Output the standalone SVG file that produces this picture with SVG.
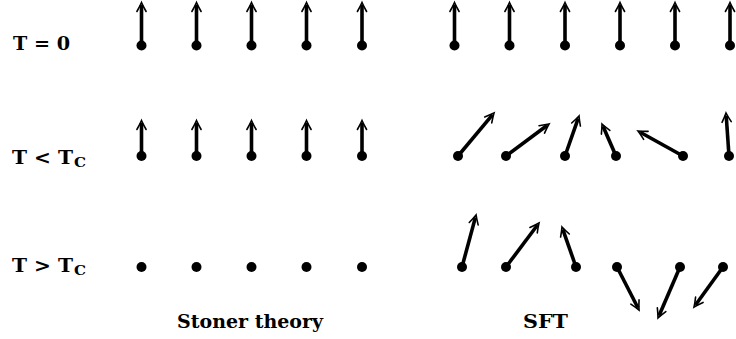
<svg xmlns="http://www.w3.org/2000/svg" width="736" height="339" viewBox="0 0 736 339">
<style>
.lbl{font-family:"DejaVu Serif","Liberation Serif",serif;font-weight:bold;fill:#000}
.sh{stroke:#000;stroke-width:3.6;fill:none;marker-end:url(#ah)}
.dot{fill:#000}
</style>
<defs>
<marker id="ah" markerUnits="userSpaceOnUse" orient="auto" refX="-2.5" refY="0" markerWidth="12" markerHeight="12" overflow="visible">
<path d="M-9,-4.6 Q-3.5,-1.5 0,0 Q-3.5,1.5 -9,4.6" stroke="#000" stroke-width="1.6" fill="none" stroke-linecap="round"/>
</marker>
</defs>
<rect width="736" height="339" fill="#fff"/>
<g id="labels">
<text class="lbl" x="13" y="50" font-size="18" textLength="57" lengthAdjust="spacingAndGlyphs">T = 0</text>
<text class="lbl" x="12" y="164" font-size="18" textLength="61" lengthAdjust="spacingAndGlyphs">T &lt; T</text>
<text class="lbl" x="74" y="167" font-size="13" textLength="12" lengthAdjust="spacingAndGlyphs">C</text>
<text class="lbl" x="12" y="272" font-size="18" textLength="61" lengthAdjust="spacingAndGlyphs">T &gt; T</text>
<text class="lbl" x="74" y="275" font-size="13" textLength="12" lengthAdjust="spacingAndGlyphs">C</text>
<text class="lbl" x="177" y="328" font-size="18" textLength="146" lengthAdjust="spacingAndGlyphs">Stoner theory</text>
<text class="lbl" x="523" y="328" font-size="18" textLength="45" lengthAdjust="spacingAndGlyphs">SFT</text>
</g>
<g id="connectors">
<line class="sh" x1="141.5" y1="45.5" x2="141.5" y2="5"/>
<line class="sh" x1="196.5" y1="45.5" x2="196.5" y2="5"/>
<line class="sh" x1="251.5" y1="45.5" x2="251.5" y2="5"/>
<line class="sh" x1="306.5" y1="45.5" x2="306.5" y2="5"/>
<line class="sh" x1="362" y1="45.5" x2="362" y2="5"/>
<line class="sh" x1="454.5" y1="45.5" x2="454.5" y2="5"/>
<line class="sh" x1="509.5" y1="45.5" x2="509.5" y2="5"/>
<line class="sh" x1="565" y1="45.5" x2="565" y2="5"/>
<line class="sh" x1="620" y1="45.5" x2="620" y2="5"/>
<line class="sh" x1="675" y1="45.5" x2="675" y2="5"/>
<line class="sh" x1="730" y1="45.5" x2="730" y2="5"/>
<line class="sh" x1="141.5" y1="156" x2="141.5" y2="123"/>
<line class="sh" x1="196.5" y1="156" x2="196.5" y2="123"/>
<line class="sh" x1="251.5" y1="156" x2="251.5" y2="123"/>
<line class="sh" x1="306.5" y1="156" x2="306.5" y2="123"/>
<line class="sh" x1="362" y1="156" x2="362" y2="123"/>
<line class="sh" x1="458" y1="156" x2="492.4" y2="114.9"/>
<line class="sh" x1="506" y1="156" x2="547" y2="125.5"/>
<line class="sh" x1="565" y1="156" x2="578.2" y2="118.4"/>
<line class="sh" x1="616" y1="156" x2="603" y2="126.3"/>
<line class="sh" x1="683" y1="156" x2="640.2" y2="132.2"/>
<line class="sh" x1="729" y1="156" x2="726.2" y2="115.5"/>
<line class="sh" x1="462" y1="267" x2="475.4" y2="217.4"/>
<line class="sh" x1="506" y1="267" x2="537.5" y2="225"/>
<line class="sh" x1="576" y1="267" x2="562.8" y2="229.4"/>
<line class="sh" x1="617" y1="267" x2="637.9" y2="307.8"/>
<line class="sh" x1="680" y1="267" x2="659" y2="315.7"/>
<line class="sh" x1="723" y1="267" x2="695.5" y2="305"/>
</g>
<g id="dots-row1">
<circle class="dot" cx="141.5" cy="45.5" r="5"/><circle class="dot" cx="196.5" cy="45.5" r="5"/><circle class="dot" cx="251.5" cy="45.5" r="5"/><circle class="dot" cx="306.5" cy="45.5" r="5"/><circle class="dot" cx="362" cy="45.5" r="5"/>
<circle class="dot" cx="454.5" cy="45.5" r="5"/><circle class="dot" cx="509.5" cy="45.5" r="5"/><circle class="dot" cx="565" cy="45.5" r="5"/><circle class="dot" cx="620" cy="45.5" r="5"/><circle class="dot" cx="675" cy="45.5" r="5"/><circle class="dot" cx="730" cy="45.5" r="5"/>
</g>
<g id="dots-row2">
<circle class="dot" cx="141.5" cy="156" r="5"/><circle class="dot" cx="196.5" cy="156" r="5"/><circle class="dot" cx="251.5" cy="156" r="5"/><circle class="dot" cx="306.5" cy="156" r="5"/><circle class="dot" cx="362" cy="156" r="5"/>
<circle class="dot" cx="458" cy="156" r="5"/><circle class="dot" cx="506" cy="156" r="5"/><circle class="dot" cx="565" cy="156" r="5"/><circle class="dot" cx="616" cy="156" r="5"/><circle class="dot" cx="683" cy="156" r="5"/><circle class="dot" cx="729" cy="156" r="5"/>
</g>
<g id="dots-row3">
<circle class="dot" cx="141.5" cy="267" r="5"/><circle class="dot" cx="196.5" cy="267" r="5"/><circle class="dot" cx="251.5" cy="267" r="5"/><circle class="dot" cx="306.5" cy="267" r="5"/><circle class="dot" cx="362" cy="267" r="5"/>
<circle class="dot" cx="462" cy="267" r="5"/><circle class="dot" cx="506" cy="267" r="5"/><circle class="dot" cx="576" cy="267" r="5"/><circle class="dot" cx="617" cy="267" r="5"/><circle class="dot" cx="680" cy="267" r="5"/><circle class="dot" cx="723" cy="267" r="5"/>
</g>
</svg>
